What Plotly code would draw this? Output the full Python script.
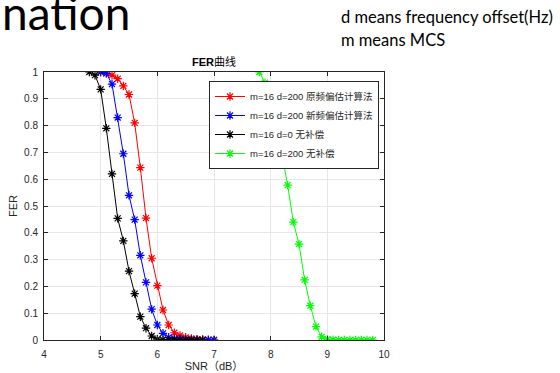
import plotly.graph_objects as go

# ---- data ----
snr_red = [5.0, 5.1, 5.2, 5.3, 5.4, 5.5, 5.6, 5.7, 5.8, 5.9, 6.0, 6.1, 6.2, 6.3, 6.4, 6.5, 6.6, 6.7, 6.8, 6.9, 7.0]
fer_red = [1.0, 0.995, 0.988, 0.975, 0.948, 0.916, 0.81, 0.643, 0.455, 0.305, 0.203, 0.112, 0.056, 0.027, 0.017, 0.01, 0.006, 0.003, 0.002, 0.001, 0.0]

snr_blue = [5.0, 5.1, 5.2, 5.3, 5.4, 5.5, 5.6, 5.7, 5.8, 5.9, 6.0, 6.1, 6.2, 6.3, 6.4, 6.5, 6.6, 6.7, 6.8, 6.9, 7.0]
fer_blue = [1.0, 0.995, 0.955, 0.83, 0.695, 0.54, 0.449, 0.316, 0.215, 0.115, 0.056, 0.025, 0.01, 0.005, 0.003, 0.002, 0.001, 0.0, 0.0, 0.0, 0.0]

snr_black = [4.8, 4.9, 5.0, 5.1, 5.2, 5.3, 5.4, 5.5, 5.6, 5.7, 5.8, 5.9, 6.0, 6.1, 6.2, 6.3, 6.4, 6.5, 6.6, 6.7, 6.8]
fer_black = [1.0, 0.988, 0.935, 0.79, 0.62, 0.454, 0.37, 0.257, 0.173, 0.087, 0.044, 0.015, 0.003, 0.001, 0.0, 0.0, 0.0, 0.0, 0.0, 0.0, 0.0]

snr_green = [7.8, 7.9, 8.0, 8.1, 8.2, 8.3, 8.4, 8.5, 8.6, 8.7, 8.8, 8.9, 9.0, 9.1, 9.2, 9.3, 9.4, 9.5, 9.6, 9.7, 9.8]
fer_green = [1.0, 0.96, 0.87, 0.78, 0.69, 0.578, 0.44, 0.358, 0.224, 0.128, 0.05, 0.012, 0.003, 0.001, 0.0, 0.0, 0.0, 0.0, 0.0, 0.0, 0.0]

names = ["m=16 d=200 原频偏估计算法", "m=16 d=200 新频偏估计算法", "m=16 d=0 无补偿", "m=16 d=200 无补偿"]
colors = ["#ff0000", "#0000ff", "#000000", "#00ff00"]

x_ticks = [4, 5, 6, 7, 8, 9, 10]
y_ticks = [0, 0.1, 0.2, 0.3, 0.4, 0.5, 0.6, 0.7, 0.8, 0.9, 1]
y_tick_text = ["0", "0.1", "0.2", "0.3", "0.4", "0.5", "0.6", "0.7", "0.8", "0.9", "1"]

series = [(snr_red, fer_red), (snr_blue, fer_blue), (snr_black, fer_black), (snr_green, fer_green)]

# ---- figure ----
L, R, T, B = 44, 176, 72, 33
W, H = 560, 373
pw, ph = W - L - R, H - T - B

def px2paper(px, py):
    return (px - L) / pw, (H - B - py) / ph

fig = go.Figure()
for (xs, ys), n, c in zip(series, names, colors):
    fig.add_trace(go.Scatter(
        x=xs, y=ys, name=n, mode="lines+markers",
        line=dict(color=c, width=1),
        marker=dict(symbol="asterisk-open", size=7, color=c, line=dict(color=c, width=1.2)),
    ))

axis_font = dict(family="Liberation Sans, Arial, Noto Sans CJK SC", size=10, color="#262626")
fig.update_xaxes(
    range=[4, 10], tickvals=x_ticks, ticktext=[str(v) for v in x_ticks],
    showgrid=True, gridcolor="#e6e6e6", gridwidth=1,
    showline=True, linecolor="#262626", linewidth=1, mirror="ticks",
    ticks="inside", ticklen=4, tickcolor="#262626", automargin=False,
    tickfont=axis_font, zeroline=False, ticklabelstandoff=5,
    title=dict(text="SNR（dB）", font=dict(family="Liberation Sans, Noto Sans CJK SC", size=11, color="#262626"), standoff=2),
)
fig.update_yaxes(
    range=[0, 1], tickvals=y_ticks, ticktext=y_tick_text,
    showgrid=True, gridcolor="#e6e6e6", gridwidth=1,
    showline=True, linecolor="#262626", linewidth=1, mirror="ticks",
    ticks="inside", ticklen=4, tickcolor="#262626", automargin=False,
    tickfont=axis_font, zeroline=False, ticklabelstandoff=3,
    title=dict(text="FER", font=dict(family="Liberation Sans, Noto Sans CJK SC", size=11, color="#262626"), standoff=4),
)

lx, ly = px2paper(209, 81)
fig.update_layout(
    width=W, height=H,
    margin=dict(l=L, r=R, t=T, b=B, autoexpand=False),
    paper_bgcolor="white", plot_bgcolor="white",
    title=dict(text="<b>FER</b>曲线", x=(L + pw / 2) / W, xanchor="center",
               y=1 - 62 / H, yanchor="middle", yref="container",
               font=dict(family="Liberation Sans, Noto Sans CJK SC", size=11, color="#000000")),
    legend=dict(x=lx, y=ly, xanchor="left", yanchor="top", xref="paper", yref="paper",
                bgcolor="white", bordercolor="#262626", borderwidth=1,
                font=dict(family="Liberation Sans, Noto Sans CJK SC", size=9.5, color="#262626"),
                tracegroupgap=0, itemwidth=30),
    showlegend=True,
)

ax, ay = px2paper(0, 12)
fig.add_annotation(text="nation", xref="paper", yref="paper", x=ax, y=ay,
                   xanchor="left", yanchor="middle", showarrow=False,
                   font=dict(family="Lato, Open Sans, sans-serif", size=46, color="#000000"))
dx, dy = px2paper(339, 17)
fig.add_annotation(text="d means frequency offset(Hz)", xref="paper", yref="paper", x=dx, y=dy,
                   xanchor="left", yanchor="middle", showarrow=False,
                   font=dict(family="Lato, Open Sans, sans-serif", size=16.5, color="#000000"))
mx, my = px2paper(339, 40)
fig.add_annotation(text="m means MCS", xref="paper", yref="paper", x=mx, y=my,
                   xanchor="left", yanchor="middle", showarrow=False,
                   font=dict(family="Lato, Open Sans, sans-serif", size=16.5, color="#000000"))

fig.write_html("out.html")
